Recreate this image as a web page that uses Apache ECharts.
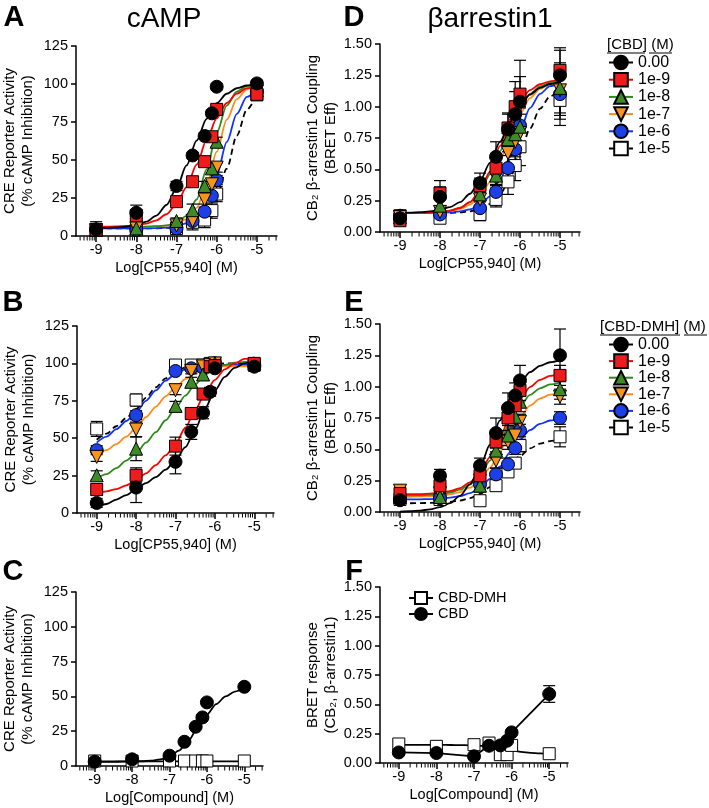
<!DOCTYPE html>
<html><head><meta charset="utf-8">
<script src="https://cdn.jsdelivr.net/npm/echarts@6/dist/echarts.min.js"></script>
<style>html,body{margin:0;padding:0;background:#fff}#c{width:709px;height:808px}</style>
</head><body><div id="c"></div>
<script>
const FONT = "'Liberation Sans', Arial, Helvetica, sans-serif";

// ---------- data ----------
const GROUPS = ['0.00', '1e-9', '1e-8', '1e-7', '1e-6', '1e-5'];
const X_PTS = [-9, -8, -7, -6.6, -6.3, -6.12, -6, -5];
const X_FIT = [-9, -8.75, -8.5, -8.25, -8, -7.75, -7.5, -7.25, -7, -6.75, -6.5, -6.25, -6, -5.75, -5.5, -5.25, -5];
const X_TICKS = [-9, -8, -7, -6, -5];
const X_NAME_CP = 'Log[CP55,940] (M)';
const X_NAME_CMPD = 'Log[Compound] (M)';

// Panel A: cAMP, CBD (rows: 0.00, 1e-9, 1e-8, 1e-7, 1e-6, 1e-5)
const A_POINTS = [
  [4.4, 15.3, 32.9, 53, 65.8, 80.7, 98.2, 100.4],
  [4, 13.4, 22.6, 35.7, 48.9, 65.3, 83.3, 93.2],
  [4, 5, 9.9, 17, 32.9, 44.5, 62, 96],
  [4, 5, 7, 10, 24, 34, 45, 95],
  [4, 4, 5, 9.9, 16, 26.5, 36.8, 95],
  [4, 4, 5, 9, 10.5, 16.7, 27.6, 93]
];
const A_ERR = [
  [5, 5, 3, 2, 2, 2, 2, 2],
  [3, 4, 3, 3, 3, 3, 3, 3],
  [2, 2, 2, 4, 3, 3, 3, 3],
  [2, 2, 2, 3, 3, 3, 3, 3],
  [2, 2, 2, 3, 3, 3, 3, 3],
  [3, 3, 4, 5, 5, 5, 5, 4]
];
const A_FITS = [
  [5.1, 5.3, 5.6, 6.1, 7.2, 9.4, 13.4, 20.4, 31.4, 46.4, 62.8, 77.1, 87.4, 93.6, 97.2, 99, 100],
  [6.1, 6.1, 6.3, 6.6, 7.1, 8.2, 10.3, 14.3, 21.2, 32.1, 47.0, 63.2, 77.4, 87.5, 93.7, 97.2, 99.1],
  [6, 6, 6, 6, 6, 6.1, 6.4, 7.0, 8.7, 13.3, 24, 43.8, 67.8, 85.8, 95, 98.8, 100.2],
  [6, 6, 6, 6, 6, 6.1, 6.3, 6.8, 8.0, 11.2, 18.5, 33.5, 55.3, 76.5, 90, 96.5, 99.3],
  [5, 5, 5, 5, 5, 5.1, 5.2, 5.5, 6.4, 8.4, 13, 22.9, 40, 61.7, 80.3, 91.5, 97],
  [5, 5, 5, 5, 5, 5, 5.1, 5.3, 5.7, 6.6, 9, 14.5, 25.7, 44.3, 66, 83.1, 93]
];

// Panel B: cAMP, CBD-DMH
const B_POINTS = [
  [6.7, 17, 34.2, 54.2, 67, 81, 96.7, 97.8],
  [15.7, 25.2, 44.7, 66.5, 79.5, 97.8, 98.5, 100],
  [25.2, 43, 71.6, 87.7, 92.6, 99, 100, 100],
  [37.5, 55.8, 82.1, 95, 98, 99, 100, 98],
  [42, 65.4, 94.9, 96.7, 97, 99, 100, 99],
  [56.2, 75.5, 98.9, 98.9, 99, 100, 100, 99]
];
const B_ERR = [
  [3, 10, 8, 5, 4, 3, 2, 3],
  [4, 5, 6, 4, 3, 3, 2, 3],
  [3, 8, 3, 3, 3, 2, 2, 2],
  [3, 5, 3, 2, 2, 2, 2, 2],
  [3, 3, 2, 2, 2, 2, 2, 2],
  [5, 4, 2, 2, 2, 2, 2, 2]
];
const B_FITS = [
  [4, 6, 9, 12, 16, 20, 24, 29, 35, 44, 56, 70, 82, 91, 97, 100, 102],
  [13, 14.5, 16, 18.5, 22, 26.5, 32, 38.5, 46, 57, 69, 80, 89, 96, 100, 103, 104],
  [23, 26, 30, 35, 40, 47, 54, 62, 70, 78.5, 86, 92.5, 96.5, 99, 100.5, 101, 101.5],
  [39, 42, 46, 51, 57, 64, 71, 78, 84, 89.5, 93.5, 96, 97.5, 98, 98, 98, 98],
  [47, 51, 56, 61.5, 67.5, 75, 82, 88.5, 93, 96, 97.8, 98.6, 99, 99, 99, 99, 99],
  [49, 53, 58, 63.5, 69.5, 77, 84, 90, 94.5, 97.3, 98.7, 99.4, 99.7, 100, 100, 100, 100]
];

// Panel C: cAMP, compound alone (rows: CBD, CBD-DMH)
const C_POINTS = [
  [3.1, 4.8, 7.4, 17.4, 28.2, 34.9, 45.7, 56.9],
  [3.6, 3.6, 3.6, 3.6, 3.6, 3.6, 3.6, 3.6]
];
const C_ERR = [
  [1, 1, 1, 1, 1, 1, 1, 1],
  [1, 1, 1, 1, 1, 1, 1, 1]
];
const C_FITS = [
  [3, 3, 3, 3.1, 3.2, 3.4, 3.8, 4.7, 6.5, 11, 18, 27, 37, 44.5, 50, 53.5, 56],
  [3.3, 3.3, 3.3, 3.3, 3.3, 3.3, 3.3, 3.3, 3.3, 3.3, 3.3, 3.3, 3.3, 3.3, 3.3, 3.3, 3.3]
];

// Panel D: beta-arrestin1, CBD
const D_POINTS = [
  [0.11, 0.28, 0.39, 0.60, 0.82, 0.94, 1.04, 1.25],
  [0.09, 0.31, 0.37, 0.51, 0.83, 1.00, 1.10, 1.29],
  [0.12, 0.21, 0.30, 0.45, 0.74, 0.78, 0.84, 1.15],
  [0.12, 0.16, 0.26, 0.43, 0.63, 0.72, 0.79, 1.13],
  [0.13, 0.14, 0.19, 0.32, 0.51, 0.66, 0.85, 1.10],
  [0.13, 0.11, 0.14, 0.26, 0.40, 0.53, 0.68, 1.05]
];
const D_ERR = [
  [0.03, 0.08, 0.08, 0.12, 0.12, 0.18, 0.20, 0.20],
  [0.03, 0.10, 0.06, 0.10, 0.12, 0.20, 0.27, 0.18],
  [0.03, 0.05, 0.05, 0.08, 0.10, 0.12, 0.15, 0.20],
  [0.03, 0.04, 0.05, 0.08, 0.10, 0.12, 0.15, 0.20],
  [0.03, 0.04, 0.05, 0.06, 0.10, 0.12, 0.15, 0.20],
  [0.04, 0.04, 0.05, 0.06, 0.10, 0.12, 0.15, 0.20]
];
const D_FITS = [
  [0.152, 0.154, 0.158, 0.164, 0.177, 0.199, 0.238, 0.305, 0.409, 0.552, 0.719, 0.879, 1.007, 1.096, 1.15, 1.181, 1.2],
  [0.15, 0.15, 0.152, 0.154, 0.158, 0.169, 0.191, 0.238, 0.328, 0.481, 0.685, 0.889, 1.042, 1.132, 1.179, 1.202, 1.211],
  [0.15, 0.151, 0.152, 0.155, 0.16, 0.171, 0.194, 0.239, 0.323, 0.459, 0.645, 0.84, 1.0, 1.102, 1.161, 1.191, 1.206],
  [0.15, 0.15, 0.151, 0.153, 0.157, 0.166, 0.183, 0.218, 0.284, 0.398, 0.567, 0.764, 0.942, 1.068, 1.142, 1.181, 1.2],
  [0.15, 0.15, 0.15, 0.151, 0.153, 0.156, 0.164, 0.18, 0.215, 0.285, 0.412, 0.6, 0.812, 0.989, 1.102, 1.164, 1.194],
  [0.15, 0.15, 0.15, 0.15, 0.151, 0.153, 0.157, 0.165, 0.184, 0.223, 0.299, 0.433, 0.624, 0.826, 0.984, 1.082, 1.134]
];

// Panel E: beta-arrestin1, CBD-DMH
const E_POINTS = [
  [0.094, 0.29, 0.37, 0.63, 0.83, 0.93, 1.05, 1.25],
  [0.147, 0.21, 0.29, 0.56, 0.75, 0.85, 0.97, 1.09],
  [0.12, 0.12, 0.21, 0.49, 0.61, 0.76, 0.88, 0.98],
  [0.17, 0.15, 0.25, 0.41, 0.56, 0.61, 0.72, 0.92],
  [0.10, 0.11, 0.22, 0.30, 0.38, 0.51, 0.65, 0.75],
  [0.10, 0.10, 0.09, 0.21, 0.32, 0.39, 0.53, 0.60]
];
const E_ERR = [
  [0.03, 0.05, 0.06, 0.12, 0.12, 0.10, 0.12, 0.21],
  [0.03, 0.05, 0.05, 0.08, 0.10, 0.08, 0.08, 0.08],
  [0.03, 0.04, 0.05, 0.06, 0.08, 0.08, 0.08, 0.08],
  [0.03, 0.04, 0.05, 0.06, 0.06, 0.06, 0.06, 0.06],
  [0.03, 0.03, 0.04, 0.05, 0.05, 0.05, 0.05, 0.05],
  [0.03, 0.03, 0.03, 0.04, 0.04, 0.04, 0.05, 0.08]
];
const E_FITS = [
  [0.003, 0.006, 0.011, 0.021, 0.039, 0.071, 0.128, 0.221, 0.359, 0.538, 0.731, 0.903, 1.031, 1.116, 1.166, 1.195, 1.212],
  [0.141, 0.142, 0.143, 0.147, 0.153, 0.166, 0.191, 0.237, 0.316, 0.438, 0.597, 0.762, 0.9, 0.997, 1.054, 1.086, 1.102],
  [0.131, 0.132, 0.133, 0.136, 0.143, 0.155, 0.178, 0.221, 0.296, 0.41, 0.559, 0.714, 0.844, 0.934, 0.987, 1.018, 1.033],
  [0.12, 0.121, 0.123, 0.125, 0.13, 0.14, 0.159, 0.194, 0.256, 0.354, 0.486, 0.632, 0.758, 0.849, 0.905, 0.936, 0.953],
  [0.1, 0.1, 0.101, 0.103, 0.107, 0.114, 0.126, 0.151, 0.194, 0.264, 0.363, 0.476, 0.579, 0.654, 0.703, 0.73, 0.745],
  [0.07, 0.07, 0.071, 0.073, 0.075, 0.081, 0.091, 0.11, 0.144, 0.199, 0.277, 0.366, 0.447, 0.507, 0.545, 0.566, 0.578]
];

// Panel F: BRET response, compound alone
const F_NAMES = ['CBD-DMH', 'CBD'];
const F_DMH = [0.162, 0.142, 0.156, 0.17, 0.071, 0.071, 0.15, 0.079];
const F_DMH_ERR = [0.02, 0.02, 0.02, 0.02, 0.02, 0.02, 0.02, 0.02];
const F_DMH_FIT = [0.155, 0.155, 0.155, 0.155, 0.155, 0.154, 0.153, 0.152, 0.15, 0.145, 0.136, 0.123, 0.108, 0.095, 0.087, 0.082, 0.08];
const F_CBD = [0.09, 0.085, 0.057, 0.147, 0.15, 0.19, 0.261, 0.588];
const F_CBD_ERR = [0.02, 0.02, 0.02, 0.02, 0.02, 0.02, 0.02, 0.071];

// ---------- styles ----------
const DOWN_TRI = 'path://M0,0L10,0L5,9Z';
const STYLE = [
  { fill: '#000000', line: '#000000', symbol: 'circle', size: 13, dash: 'solid' },
  { fill: '#ee1d1d', line: '#ff0000', symbol: 'rect', size: 12, dash: 'solid' },
  { fill: '#3d8a26', line: '#2f8a1c', symbol: 'triangle', size: 13, dash: 'solid' },
  { fill: '#f7941e', line: '#ff8c1a', symbol: DOWN_TRI, size: 13, dash: 'solid' },
  { fill: '#1d3fe6', line: '#1030ff', symbol: 'circle', size: 13, dash: 'solid' },
  { fill: '#ffffff', line: '#000000', symbol: 'rect', size: 12, dash: [6, 4] }
];
const WHITE_SOLID = { fill: '#ffffff', line: '#000000', symbol: 'rect', size: 12, dash: 'solid' };

const LAYOUT = [
  { left: 76, top: 46, width: 201, height: 190 },
  { left: 77, top: 326, width: 197, height: 187 },
  { left: 76, top: 592, width: 187, height: 174 },
  { left: 380, top: 44, width: 200, height: 188 },
  { left: 380, top: 324, width: 200, height: 188 },
  { left: 380, top: 587, width: 188, height: 176 }
];

// log-decade minor tick positions for the x axes
const MINOR_TICKS = [];
for (let d = -10; d <= -5; d++) {
  for (let k = 2; k <= 9; k++) {
    const v = d + Math.log10(k);
    if (v > -9.5 && v < -4.5) MINOR_TICKS.push(v);
  }
}

const AX = { color: '#000', width: 1.5 };
const xAxes = [], yAxes = [];
LAYOUT.forEach((g, i) => {
  const isBottomRow = (i === 2 || i === 5);
  xAxes.push({
    type: 'value', gridIndex: i, position: 'bottom', min: -9.5, max: -4.5,
    axisLine: { show: true, onZero: false, lineStyle: AX },
    axisTick: { show: true, customValues: X_TICKS, length: 6, lineStyle: AX },
    axisLabel: { customValues: X_TICKS, color: '#000', fontSize: 14.5, fontFamily: FONT, margin: 6, formatter: v => String(v) },
    splitLine: { show: false },
    name: isBottomRow ? X_NAME_CMPD : X_NAME_CP,
    nameLocation: 'middle', nameGap: 24,
    nameTextStyle: { color: '#000', fontSize: 14.5, fontFamily: FONT }
  });
  const isCre = i < 3;
  let yname;
  if (isCre) yname = 'CRE Reporter Activity\n(% cAMP Inhibition)';
  else if (i < 5) yname = 'CB\u2082 \u03b2-arrestin1 Coupling\n(BRET Eff)';
  else yname = 'BRET response\n(CB\u2082, \u03b2-arrestin1)';
  yAxes.push({
    type: 'value', gridIndex: i, min: 0, max: isCre ? 125 : 1.5, interval: isCre ? 25 : 0.25,
    axisLine: { show: true, onZero: false, lineStyle: AX },
    axisTick: { show: true, length: 5, lineStyle: AX },
    axisLabel: { color: '#000', fontSize: 14.5, fontFamily: FONT, margin: 8,
      formatter: v => isCre ? String(v) : v.toFixed(2) },
    splitLine: { show: false },
    name: yname, nameLocation: 'middle', nameRotate: 90, nameGap: 39,
    nameTextStyle: { color: '#000', fontSize: 15, lineHeight: 18, fontFamily: FONT }
  });
});

const series = [];
// minor ticks drawn as thin bar-shaped symbols hanging under each x axis
LAYOUT.forEach((g, i) => {
  series.push({
    type: 'scatter', name: 'minor ticks ' + i, xAxisIndex: i, yAxisIndex: i,
    data: MINOR_TICKS.map(v => [v, 0]), symbol: 'rect', symbolSize: [1, 4],
    symbolOffset: [0, 2.5], clip: false, silent: true, z: 6,
    itemStyle: { color: '#000', opacity: 1 }
  });
});
function errorRender(params, api) {
  const x = api.value(0), y = api.value(1), e = api.value(2);
  const hi = api.coord([x, y + e]);
  const lo = api.coord([x, Math.max(y - e, 0)]);
  const w = 6;
  const st = { stroke: '#000', lineWidth: 1.2 };
  return { type: 'group', children: [
    { type: 'line', shape: { x1: hi[0], y1: hi[1], x2: lo[0], y2: lo[1] }, style: st },
    { type: 'line', shape: { x1: hi[0] - w, y1: hi[1], x2: hi[0] + w, y2: hi[1] }, style: st },
    { type: 'line', shape: { x1: lo[0] - w, y1: lo[1], x2: lo[0] + w, y2: lo[1] }, style: st }
  ] };
}
function addSet(gi, label, st, pts, err, fit, connectPoints) {
  if (fit) {
    series.push({
      type: 'line', name: label + ' fit', xAxisIndex: gi, yAxisIndex: gi,
      data: X_FIT.map((x, j) => [x, fit[j]]), smooth: 0.3, smoothMonotone: 'x',
      symbol: 'none', silent: true, z: 2,
      lineStyle: { color: st.line, width: 1.8, type: st.dash }
    });
  }
  series.push({
    type: 'custom', name: label + ' err', xAxisIndex: gi, yAxisIndex: gi,
    data: X_PTS.map((x, j) => [x, pts[j], err[j]]), encode: { x: 0, y: 1 },
    renderItem: errorRender, silent: true, z: 3
  });
  series.push({
    type: connectPoints ? 'line' : 'scatter', name: label + ' data', xAxisIndex: gi, yAxisIndex: gi,
    data: X_PTS.map((x, j) => [x, pts[j]]), symbol: st.symbol, symbolSize: st.size,
    showSymbol: true, z: 4,
    lineStyle: connectPoints ? { color: st.line, width: 1.8 } : undefined,
    itemStyle: { color: st.fill, borderColor: '#000', borderWidth: 1, opacity: 1 }
  });
}
const ORDER = [5, 4, 3, 2, 1, 0];
[[0, A_POINTS, A_ERR, A_FITS], [1, B_POINTS, B_ERR, B_FITS], [3, D_POINTS, D_ERR, D_FITS], [4, E_POINTS, E_ERR, E_FITS]]
  .forEach(([gi, P, E, F]) => {
    ORDER.forEach(k => addSet(gi, 'P' + gi + ' ' + GROUPS[k], STYLE[k], P[k], E[k], F[k], false));
  });
// Panel C
addSet(2, 'C CBD-DMH', WHITE_SOLID, C_POINTS[1], C_ERR[1], C_FITS[1], false);
addSet(2, 'C CBD', STYLE[0], C_POINTS[0], C_ERR[0], C_FITS[0], false);
// Panel F
addSet(5, 'F CBD-DMH', WHITE_SOLID, F_DMH, F_DMH_ERR, F_DMH_FIT, false);
addSet(5, 'F CBD', STYLE[0], F_CBD, F_CBD_ERR, null, true);

// legend-only series
GROUPS.forEach((name, k) => {
  const st = STYLE[k];
  series.push({ type: 'line', name: name, xAxisIndex: 3, yAxisIndex: 3, data: [],
    symbol: st.symbol, symbolSize: st.size,
    itemStyle: { color: st.fill, borderColor: '#000', borderWidth: 1 },
    lineStyle: { color: st.line, width: 1.8, type: st.dash } });
});
[WHITE_SOLID, STYLE[0]].forEach((st, k) => {
  series.push({ type: 'line', name: F_NAMES[k], xAxisIndex: 5, yAxisIndex: 5, data: [],
    symbol: st.symbol, symbolSize: st.size,
    itemStyle: { color: st.fill, borderColor: '#000', borderWidth: 1 },
    lineStyle: { color: st.line, width: 1.8, type: 'solid' } });
});

const legendText = { color: '#000', fontSize: 16, fontFamily: FONT };
const legend = [
  { data: GROUPS, orient: 'vertical', left: 608, top: 54.5, itemWidth: 24, itemHeight: 17, itemGap: 1.2,
    selectedMode: false, textStyle: legendText, padding: 0 },
  { data: GROUPS, orient: 'vertical', left: 608, top: 336.5, itemWidth: 24, itemHeight: 17, itemGap: 0.6,
    selectedMode: false, textStyle: legendText, padding: 0 },
  { data: F_NAMES, orient: 'vertical', left: 408, top: 590.5, itemWidth: 24, itemHeight: 15, itemGap: 1,
    selectedMode: false, textStyle: { color: '#000', fontSize: 14.5, fontFamily: FONT }, padding: 0 }
];

function txt(text, x, y, size, bold, align) {
  return { type: 'text', x: x, y: y, silent: true,
    style: { text: text, fontSize: size, fontWeight: bold ? 'bold' : 'normal', fontFamily: FONT,
      fill: '#000', align: align || 'center', verticalAlign: 'middle' } };
}
function uline(x1, x2, y) {
  return { type: 'line', silent: true, shape: { x1: x1, y1: y, x2: x2, y2: y }, style: { stroke: '#000', lineWidth: 1 } };
}
const graphic = [
  txt('A', 14, 18, 29, true), txt('B', 13, 303, 29, true), txt('C', 13, 572, 29, true),
  txt('D', 354, 18, 29, true), txt('E', 354, 303, 29, true), txt('F', 354, 572, 29, true),
  txt('cAMP', 164, 19, 28, false), txt('\u03b2arrestin1', 490, 19, 28, false),
  txt('[CBD] (M)', 607, 45, 15, false, 'left'), uline(607, 645, 53), uline(649, 672, 53),
  txt('[CBD-DMH] (M)', 600, 327, 15, false, 'left'), uline(600, 680, 335), uline(684, 707, 335)
];

const chart = echarts.init(document.getElementById('c'), null, { renderer: 'canvas' });
chart.setOption({
  animation: false,
  backgroundColor: '#fff',
  textStyle: { fontFamily: FONT },
  grid: LAYOUT.map(g => Object.assign({ containLabel: false }, g)),
  xAxis: xAxes, yAxis: yAxes,
  legend: legend,
  graphic: graphic,
  series: series
});
</script></body></html>
